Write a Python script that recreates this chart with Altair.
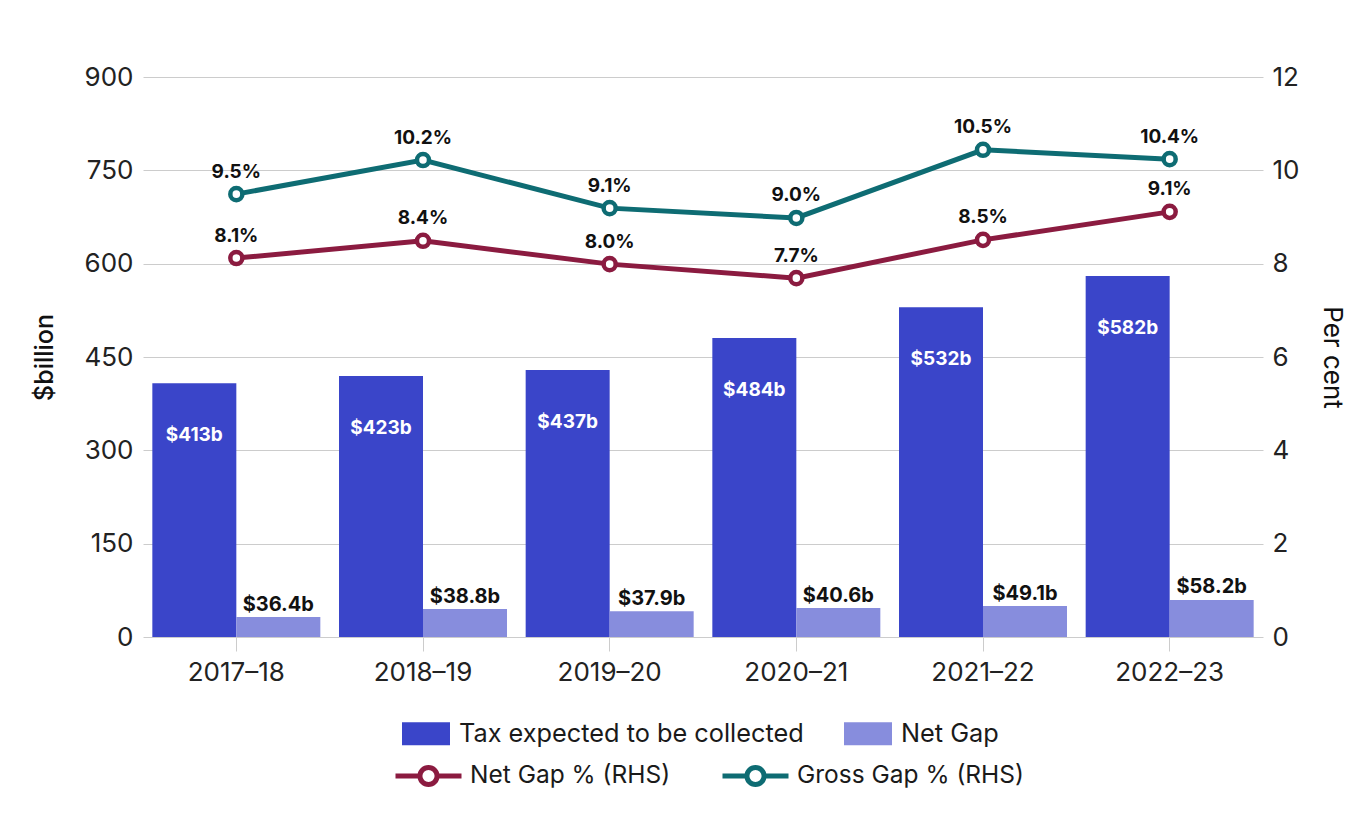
import altair as alt
import pandas as pd

years = ["2017–18", "2018–19", "2019–20", "2020–21", "2021–22", "2022–23"]

# $billion bars (heights as drawn) and their labels
tax_expected = [408, 419.5, 429, 480.5, 530, 580]
tax_labels = ["$413b", "$423b", "$437b", "$484b", "$532b", "$582b"]
net_gap = [32.1, 45, 41.2, 46.6, 49.8, 59.5]
net_gap_labels = ["$36.4b", "$38.8b", "$37.9b", "$40.6b", "$49.1b", "$58.2b"]

# Per cent lines (RHS)
net_gap_pct = [8.12, 8.49, 7.99, 7.69, 8.51, 9.11]
net_gap_pct_labels = ["8.1%", "8.4%", "8.0%", "7.7%", "8.5%", "9.1%"]
gross_gap_pct = [9.49, 10.22, 9.19, 8.98, 10.44, 10.24]
gross_gap_pct_labels = ["9.5%", "10.2%", "9.1%", "9.0%", "10.5%", "10.4%"]

bar_series = ["Tax expected to be collected", "Net Gap"]
bar_colors = ["#3A45C9", "#878DDD"]
line_series = ["Net Gap % (RHS)", "Gross Gap % (RHS)"]
line_colors = ["#8B1B40", "#0E6C73"]

FONT = "Inter"

bars_df = pd.DataFrame({
    "year": years * 2,
    "series": [bar_series[0]] * 6 + [bar_series[1]] * 6,
    "value": tax_expected + net_gap,
    "label": tax_labels + net_gap_labels,
})
lines_df = pd.DataFrame({
    "year": years * 2,
    "series": [line_series[0]] * 6 + [line_series[1]] * 6,
    "pct": net_gap_pct + gross_gap_pct,
    "label": net_gap_pct_labels + gross_gap_pct_labels,
})

x_scale = alt.Scale(type="band", paddingInner=0.1, paddingOuter=0.05)
x_axis = alt.Axis(title=None, labelAngle=0, labelFont=FONT, labelFontSize=26,
                  labelColor="#222222", labelPadding=8, ticks=True, tickSize=14,
                  tickColor="#cccccc", domain=False, grid=False)
x_enc = alt.X("year:N", sort=years, scale=x_scale, axis=x_axis)
xoff = alt.XOffset("series:N", sort=bar_series,
                   scale=alt.Scale(domain=bar_series, paddingInner=0, paddingOuter=0))

y_left = alt.Y("value:Q", scale=alt.Scale(domain=[0, 900], nice=False),
               axis=alt.Axis(title="$billion", values=[0, 150, 300, 450, 600, 750, 900],
                             labelFont=FONT, labelFontSize=26, labelColor="#222222",
                             labelPadding=10, ticks=False, domain=False,
                             grid=True, gridColor="#cccccc", gridWidth=1,
                             titleFont=FONT, titleFontSize=25, titleFontWeight=500,
                             titleColor="#111111", titlePadding=26))

rect_path = "M-1,-0.48H1V0.48H-1Z"
line_path = "M-1,0H-0.26M0.26,0H1M-0.26,0A0.26,0.26,0,1,1,0.26,0A0.26,0.26,0,1,1,-0.26,0Z"

fill_enc = alt.Fill("series:N", sort=bar_series,
                    scale=alt.Scale(domain=bar_series, range=bar_colors),
                    legend=alt.Legend(orient="none", legendX=259, legendY=632.5,
                                      direction="horizontal", title=None,
                                      symbolType=rect_path, symbolSize=2304,
                                      symbolStrokeWidth=0, labelOffset=9,
                                      columnPadding=40, padding=0,
                                      labelFont=FONT, labelFontSize=25.3,
                                      labelColor="#1a1a1a", labelLimit=0))

bars = alt.Chart(bars_df).mark_bar().encode(
    x=x_enc, xOffset=xoff, y=y_left, fill=fill_enc)

tax_text = alt.Chart(bars_df).transform_filter(
    alt.datum.series == bar_series[0]
).mark_text(font=FONT, fontSize=19, fontWeight="bold", color="white",
            baseline="alphabetic", dy=58).encode(
    x=x_enc, xOffset=xoff, y=y_left, text="label:N")

net_text = alt.Chart(bars_df).transform_filter(
    alt.datum.series == bar_series[1]
).mark_text(font=FONT, fontSize=20, fontWeight="bold", color="#111111",
            baseline="alphabetic", dy=-6.5).encode(
    x=x_enc, xOffset=xoff, y=y_left, text="label:N")

bar_layer = alt.layer(bars, tax_text, net_text)

y_right = alt.Y("pct:Q", scale=alt.Scale(domain=[0, 12], nice=False),
                axis=alt.Axis(title="Per cent", orient="right",
                              values=[0, 2, 4, 6, 8, 10, 12],
                              labelFont=FONT, labelFontSize=26, labelColor="#222222",
                              labelPadding=9, ticks=False, domain=False, grid=False,
                              titleFont=FONT, titleFontSize=26, titleFontWeight="normal",
                              titleColor="#111111", titlePadding=20))

stroke_enc = alt.Stroke("series:N", sort=line_series,
                        scale=alt.Scale(domain=line_series, range=line_colors),
                        legend=alt.Legend(orient="none", legendX=250, legendY=663,
                                          direction="horizontal", title=None,
                                          symbolType=line_path, symbolSize=4356,
                                          symbolStrokeWidth=5, symbolFillColor="white",
                                          symbolOpacity=1, labelOffset=6,
                                          columnPadding=41, padding=0,
                                          labelFont=FONT, labelFontSize=24.5,
                                          labelColor="#1a1a1a", labelLimit=0))

lines = alt.Chart(lines_df).mark_line(strokeWidth=5).encode(
    x=x_enc, y=y_right, stroke=stroke_enc, detail="series:N")

points = alt.Chart(lines_df).mark_point(shape="circle", size=145, strokeWidth=4.5,
                                        filled=False, fill="white", opacity=1).encode(
    x=x_enc, y=y_right, stroke=stroke_enc)

pct_text = alt.Chart(lines_df).mark_text(font=FONT, fontSize=19, fontWeight="bold",
                                         color="#111111", baseline="alphabetic",
                                         dy=-16.5).encode(
    x=x_enc, y=y_right, text="label:N")

line_layer = alt.layer(lines, points, pct_text)

chart = alt.layer(bar_layer, line_layer).resolve_scale(
    y="independent"
).properties(
    width=1120, height=560,
    autosize=alt.AutoSizeParams(type="none"),
    padding={"left": 135, "top": 69, "right": 89, "bottom": 170},
).configure_view(stroke=None)

chart.save("out.html", embed_options={"renderer": "svg", "actions": False})
